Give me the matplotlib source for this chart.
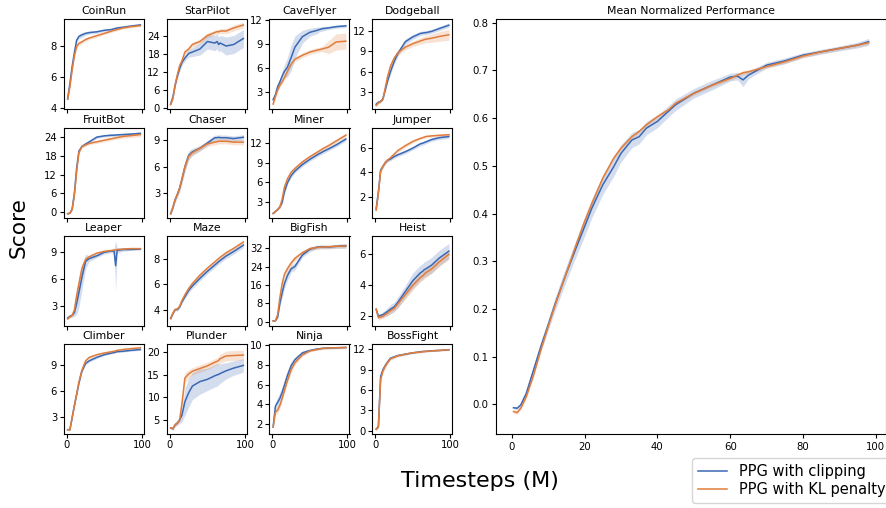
import matplotlib
matplotlib.use("Agg")
import matplotlib.pyplot as plt
import numpy as np

# ---------------- data ----------------
X = [1, 4, 7, 10, 13, 16, 20, 25, 30, 40, 50, 60, 63, 65, 67, 75, 85, 98]

ENVS = ["CoinRun", "StarPilot", "CaveFlyer", "Dodgeball",
        "FruitBot", "Chaser", "Miner", "Jumper",
        "Leaper", "Maze", "BigFish", "Heist",
        "Climber", "Plunder", "Ninja", "BossFight"]

CLIP = {
    "CoinRun":   [4.6, 5.6, 6.7, 7.6, 8.4, 8.65, 8.75, 8.85, 8.9, 8.95, 9.05, 9.1, 9.15, 9.17, 9.2, 9.25, 9.32, 9.4],
    "StarPilot": [1.2, 3.5, 7.5, 10.5, 13, 15, 16.5, 18, 18.5, 19.5, 22, 21.5, 22, 21, 21.5, 20.5, 21, 23],
    "CaveFlyer": [2.1, 2.7, 3.7, 4.3, 5.0, 5.6, 6.1, 7.3, 8.6, 9.9, 10.45, 10.7, 10.8, 10.85, 10.9, 11.0, 11.15, 11.25],
    "Dodgeball": [1.3, 1.6, 1.7, 2.1, 3.3, 4.6, 6.0, 7.5, 8.7, 10.4, 11.1, 11.6, 11.65, 11.7, 11.7, 11.9, 12.3, 12.8],
    "FruitBot":  [-0.5, -0.3, 1.0, 6, 14, 19.5, 21, 21.8, 22.5, 24.0, 24.4, 24.6, 24.6, 24.65, 24.7, 24.8, 24.95, 25.2],
    "Chaser":    [0.7, 1.4, 2.3, 2.9, 3.6, 4.6, 6.0, 7.3, 7.7, 8.1, 8.7, 9.3, 9.3, 9.35, 9.3, 9.3, 9.2, 9.35],
    "Miner":     [1.2, 1.5, 1.8, 2.2, 2.9, 4.5, 5.9, 7.0, 7.7, 8.7, 9.5, 10.2, 10.4, 10.5, 10.65, 11.1, 11.7, 12.6],
    "Jumper":    [1.0, 2.4, 4.2, 4.5, 4.8, 5.0, 5.1, 5.3, 5.45, 5.7, 6.0, 6.35, 6.4, 6.45, 6.5, 6.7, 6.85, 6.95],
    "Leaper":    [1.7, 1.9, 2.0, 2.3, 3.3, 4.5, 6.2, 8.0, 8.3, 8.6, 9.0, 9.15, 9.1, 7.5, 9.2, 9.3, 9.3, 9.35],
    "Maze":      [3.3, 3.7, 4.0, 4.0, 4.2, 4.6, 5.0, 5.5, 5.85, 6.45, 7.0, 7.5, 7.65, 7.75, 7.85, 8.2, 8.55, 9.05],
    "BigFish":   [0.3, 0.4, 2.0, 8.0, 12.5, 16.5, 20.0, 23.0, 24.0, 29.0, 31.5, 32.5, 32.5, 32.6, 32.6, 32.5, 32.8, 33.0],
    "Heist":     [2.45, 2.0, 2.05, 2.1, 2.2, 2.3, 2.45, 2.6, 2.9, 3.6, 4.3, 4.8, 4.9, 5.0, 5.05, 5.3, 5.75, 6.2],
    "Climber":   [1.5, 1.5, 2.9, 4.3, 5.6, 6.9, 8.3, 9.2, 9.5, 9.9, 10.2, 10.4, 10.45, 10.5, 10.55, 10.6, 10.7, 10.8],
    "Plunder":   [3.2, 3.0, 3.9, 4.3, 5.0, 6.0, 9.0, 11.0, 12.5, 13.5, 14.0, 14.8, 15.0, 15.1, 15.3, 15.9, 16.5, 17.1],
    "Ninja":     [1.7, 3.8, 4.2, 4.6, 5.2, 5.9, 6.9, 7.9, 8.5, 9.2, 9.45, 9.6, 9.62, 9.65, 9.67, 9.7, 9.72, 9.75],
    "BossFight": [0.2, 0.6, 8.0, 9.0, 9.6, 10.1, 10.7, 10.9, 11.1, 11.3, 11.5, 11.65, 11.7, 11.7, 11.72, 11.8, 11.85, 11.95],
}

KL = {
    "CoinRun":   [4.6, 5.4, 6.5, 7.4, 8.0, 8.2, 8.3, 8.45, 8.55, 8.7, 8.85, 9.0, 9.05, 9.07, 9.1, 9.2, 9.28, 9.35],
    "StarPilot": [1.0, 3.0, 7.5, 11, 14, 15.5, 18.5, 19.5, 21, 22, 24, 25, 25.3, 25.2, 25.5, 25.5, 26.5, 27.5],
    "CaveFlyer": [1.55, 2.5, 3.3, 3.9, 4.3, 4.8, 5.6, 6.5, 7.1, 7.6, 8.0, 8.25, 8.3, 8.35, 8.4, 8.6, 9.25, 9.35],
    "Dodgeball": [1.1, 1.5, 1.7, 2.0, 3.6, 5.2, 6.8, 8.0, 8.8, 9.6, 10.1, 10.5, 10.6, 10.7, 10.75, 10.9, 11.15, 11.4],
    "FruitBot":  [-0.5, -0.3, 0.8, 5.5, 13, 19, 21, 21.5, 22, 22.5, 23.0, 23.5, 23.65, 23.75, 23.85, 24.2, 24.45, 24.8],
    "Chaser":    [0.7, 1.4, 2.3, 2.9, 3.6, 4.6, 6.0, 7.2, 7.6, 8.1, 8.6, 8.8, 8.85, 8.9, 8.9, 8.9, 8.8, 8.8],
    "Miner":     [1.2, 1.5, 1.8, 2.2, 3.4, 5.2, 6.5, 7.5, 8.1, 9.1, 9.9, 10.6, 10.8, 10.95, 11.1, 11.6, 12.3, 13.2],
    "Jumper":    [0.9, 2.3, 4.1, 4.5, 4.8, 5.0, 5.2, 5.5, 5.8, 6.2, 6.55, 6.8, 6.85, 6.9, 6.95, 7.0, 7.05, 7.1],
    "Leaper":    [1.6, 1.8, 2.0, 2.6, 4.2, 5.5, 7.2, 8.2, 8.5, 8.9, 9.1, 9.2, 9.25, 9.25, 9.3, 9.35, 9.4, 9.4],
    "Maze":      [3.3, 3.7, 4.0, 4.05, 4.25, 4.7, 5.15, 5.65, 6.05, 6.7, 7.25, 7.75, 7.9, 8.0, 8.1, 8.45, 8.8, 9.3],
    "BigFish":   [0.3, 0.4, 3.0, 10.5, 16.5, 20.5, 23.0, 25.5, 27.5, 30.0, 31.8, 32.3, 32.4, 32.5, 32.5, 32.6, 32.8, 33.0],
    "Heist":     [2.45, 1.9, 1.95, 2.0, 2.1, 2.2, 2.35, 2.5, 2.8, 3.4, 4.0, 4.5, 4.6, 4.7, 4.8, 5.05, 5.5, 6.0],
    "Climber":   [1.5, 1.5, 2.9, 4.3, 5.6, 7.0, 8.4, 9.5, 9.9, 10.2, 10.4, 10.55, 10.6, 10.65, 10.7, 10.8, 10.9, 11.0],
    "Plunder":   [3.2, 3.0, 3.9, 4.3, 5.0, 8.5, 14.3, 15.2, 15.8, 16.4, 17.0, 17.8, 18.0, 18.2, 18.6, 19.2, 19.3, 19.4],
    "Ninja":     [1.7, 3.2, 3.4, 3.9, 4.6, 5.4, 6.4, 7.5, 8.2, 9.0, 9.4, 9.55, 9.6, 9.62, 9.65, 9.7, 9.72, 9.75],
    "BossFight": [0.2, 0.5, 7.6, 8.8, 9.5, 10.0, 10.6, 10.85, 11.05, 11.3, 11.5, 11.6, 11.65, 11.68, 11.7, 11.78, 11.85, 11.95],
}

CLIP_SD = {
    "CoinRun":   [0.1, 0.2, 0.2, 0.2, 0.15, 0.15, 0.15, 0.12, 0.1, 0.1, 0.08, 0.08, 0.08, 0.08, 0.08, 0.06, 0.06, 0.06],
    "StarPilot": [0.3, 0.5, 0.8, 1, 1, 1, 1, 1.2, 1.5, 2, 2.5, 2.5, 2.5, 2.5, 2.5, 3, 3, 3],
    "CaveFlyer": [0.2, 0.3, 0.4, 0.5, 0.6, 0.8, 1.2, 1.6, 1.4, 0.8, 0.5, 0.4, 0.3, 0.3, 0.3, 0.2, 0.2, 0.2],
    "Dodgeball": [0.15, 0.2, 0.2, 0.2, 0.3, 0.4, 0.4, 0.4, 0.4, 0.4, 0.35, 0.3, 0.3, 0.3, 0.3, 0.3, 0.3, 0.3],
    "FruitBot":  [0.2, 0.2, 0.3, 0.5, 0.6, 0.5, 0.4, 0.4, 0.4, 0.4, 0.4, 0.4, 0.4, 0.4, 0.4, 0.4, 0.4, 0.4],
    "Chaser":    [0.1, 0.2, 0.3, 0.3, 0.4, 0.5, 0.6, 0.5, 0.4, 0.3, 0.3, 0.3, 0.3, 0.3, 0.3, 0.3, 0.3, 0.3],
    "Miner":     [0.1, 0.1, 0.1, 0.2, 0.3, 0.3, 0.3, 0.3, 0.3, 0.3, 0.3, 0.3, 0.3, 0.3, 0.3, 0.3, 0.3, 0.3],
    "Jumper":    [0.1, 0.15, 0.15, 0.15, 0.15, 0.15, 0.15, 0.15, 0.15, 0.15, 0.15, 0.15, 0.15, 0.15, 0.15, 0.15, 0.15, 0.15],
    "Leaper":    [0.1, 0.1, 0.2, 0.4, 1.2, 1.6, 1.4, 0.8, 0.3, 0.2, 0.2, 0.2, 0.3, 2.8, 0.3, 0.2, 0.1, 0.1],
    "Maze":      [0.1, 0.1, 0.1, 0.1, 0.1, 0.15, 0.15, 0.2, 0.2, 0.2, 0.2, 0.2, 0.2, 0.2, 0.2, 0.2, 0.2, 0.2],
    "BigFish":   [0.3, 0.3, 0.8, 1.5, 2.0, 2.0, 2.0, 1.5, 1.5, 1.0, 1.0, 0.8, 0.8, 0.8, 0.8, 0.8, 0.8, 1.0],
    "Heist":     [0.15, 0.15, 0.15, 0.2, 0.2, 0.25, 0.3, 0.3, 0.35, 0.4, 0.5, 0.5, 0.5, 0.5, 0.5, 0.5, 0.5, 0.5],
    "Climber":   [0.1, 0.1, 0.15, 0.2, 0.2, 0.2, 0.2, 0.2, 0.15, 0.15, 0.1, 0.1, 0.1, 0.1, 0.1, 0.1, 0.1, 0.1],
    "Plunder":   [0.2, 0.3, 0.4, 0.5, 0.8, 1.5, 3.0, 3.2, 3.0, 2.8, 2.5, 2.5, 2.5, 2.3, 2.2, 1.8, 1.6, 1.5],
    "Ninja":     [0.1, 0.4, 0.5, 0.6, 0.6, 0.6, 0.5, 0.4, 0.3, 0.2, 0.1, 0.1, 0.1, 0.1, 0.1, 0.1, 0.1, 0.1],
    "BossFight": [0.1, 0.2, 0.4, 0.3, 0.3, 0.2, 0.2, 0.2, 0.15, 0.15, 0.1, 0.1, 0.1, 0.1, 0.1, 0.1, 0.1, 0.1],
}

KL_SD = {
    "CoinRun":   [0.1, 0.2, 0.2, 0.2, 0.15, 0.15, 0.12, 0.1, 0.1, 0.1, 0.08, 0.08, 0.08, 0.08, 0.08, 0.06, 0.06, 0.06],
    "StarPilot": [0.3, 0.4, 0.6, 0.7, 0.7, 0.7, 0.7, 0.8, 0.8, 0.8, 0.8, 0.8, 0.8, 0.8, 0.8, 0.9, 1.0, 1.0],
    "CaveFlyer": [0.2, 0.3, 0.3, 0.3, 0.3, 0.3, 0.3, 0.3, 0.3, 0.3, 0.3, 0.3, 0.3, 0.3, 0.35, 0.8, 1.0, 1.0],
    "Dodgeball": [0.15, 0.2, 0.2, 0.2, 0.3, 0.4, 0.4, 0.4, 0.4, 0.4, 0.4, 0.45, 0.5, 0.5, 0.5, 0.6, 0.7, 0.8],
    "FruitBot":  [0.2, 0.2, 0.3, 0.5, 0.6, 0.5, 0.4, 0.4, 0.4, 0.5, 0.5, 0.5, 0.5, 0.5, 0.5, 0.6, 0.6, 0.7],
    "Chaser":    [0.1, 0.2, 0.3, 0.3, 0.4, 0.4, 0.4, 0.4, 0.3, 0.3, 0.3, 0.3, 0.3, 0.3, 0.3, 0.3, 0.3, 0.3],
    "Miner":     [0.1, 0.1, 0.1, 0.2, 0.3, 0.3, 0.3, 0.3, 0.3, 0.3, 0.3, 0.3, 0.3, 0.3, 0.3, 0.3, 0.3, 0.3],
    "Jumper":    [0.1, 0.15, 0.15, 0.15, 0.15, 0.15, 0.15, 0.15, 0.15, 0.15, 0.12, 0.1, 0.1, 0.1, 0.1, 0.1, 0.1, 0.1],
    "Leaper":    [0.1, 0.1, 0.2, 0.3, 0.6, 0.6, 0.5, 0.3, 0.2, 0.15, 0.15, 0.1, 0.1, 0.1, 0.1, 0.1, 0.1, 0.1],
    "Maze":      [0.1, 0.1, 0.1, 0.1, 0.1, 0.1, 0.1, 0.1, 0.1, 0.1, 0.1, 0.1, 0.1, 0.1, 0.1, 0.1, 0.1, 0.1],
    "BigFish":   [0.3, 0.3, 0.8, 1.5, 1.5, 1.5, 1.5, 1.5, 1.2, 1.0, 0.8, 0.8, 0.8, 0.8, 0.8, 0.8, 0.8, 1.0],
    "Heist":     [0.15, 0.15, 0.15, 0.15, 0.15, 0.2, 0.2, 0.2, 0.25, 0.3, 0.3, 0.3, 0.3, 0.3, 0.3, 0.3, 0.3, 0.3],
    "Climber":   [0.1, 0.1, 0.15, 0.2, 0.2, 0.2, 0.2, 0.2, 0.15, 0.15, 0.1, 0.1, 0.1, 0.1, 0.1, 0.1, 0.1, 0.1],
    "Plunder":   [0.2, 0.2, 0.3, 0.4, 0.5, 1.2, 1.2, 0.9, 0.8, 0.8, 0.8, 0.8, 0.8, 0.9, 1.0, 1.1, 1.1, 1.1],
    "Ninja":     [0.1, 0.3, 0.3, 0.3, 0.3, 0.3, 0.3, 0.3, 0.2, 0.15, 0.1, 0.1, 0.1, 0.1, 0.1, 0.1, 0.1, 0.1],
    "BossFight": [0.1, 0.2, 0.4, 0.3, 0.3, 0.2, 0.2, 0.2, 0.15, 0.15, 0.1, 0.1, 0.1, 0.1, 0.1, 0.1, 0.1, 0.1],
}

YTICKS = {
    "CoinRun": [4, 6, 8], "StarPilot": [0, 6, 12, 18, 24], "CaveFlyer": [3, 6, 9, 12],
    "Dodgeball": [3, 6, 9, 12], "FruitBot": [0, 6, 12, 18, 24], "Chaser": [3, 6, 9],
    "Miner": [3, 6, 9, 12], "Jumper": [2, 4, 6], "Leaper": [3, 6, 9], "Maze": [4, 6, 8],
    "BigFish": [0, 8, 16, 24, 32], "Heist": [2, 4, 6], "Climber": [3, 6, 9],
    "Plunder": [5, 10, 15, 20], "Ninja": [2, 4, 6, 8, 10], "BossFight": [0, 3, 6, 9, 12],
}

YLIMS = {
    "CoinRun": (3.98, 9.78), "StarPilot": (-0.3, 29.5), "CaveFlyer": (1.0, 12.1),
    "Dodgeball": (0.67, 13.7), "FruitBot": (-1.7, 26.9), "Chaser": (0.27, 10.4),
    "Miner": (0.58, 14.3), "Jumper": (0.3, 7.65), "Leaper": (0.87, 10.8),
    "Maze": (2.75, 9.77), "BigFish": (-1.7, 37.3), "Heist": (1.4, 7.18),
    "Climber": (1.06, 11.44), "Plunder": (1.96, 21.86), "Ninja": (1.05, 10.1),
    "BossFight": (-0.44, 12.8),
}

# Mean normalized performance
MX = [0.5, 1.5, 2.5, 4, 6, 8, 10, 12, 15, 18, 20, 22, 25, 28, 30, 33, 35, 37, 40,
      43, 45, 50, 55, 60, 62, 63.5, 65, 70, 75, 80, 85, 90, 95, 98]
MEAN_CLIP = [-0.007, -0.008, -0.001, 0.023, 0.072, 0.121, 0.166, 0.212, 0.275, 0.334,
             0.372, 0.411, 0.460, 0.498, 0.526, 0.554, 0.561, 0.579, 0.593, 0.614,
             0.628, 0.652, 0.669, 0.686, 0.688, 0.680, 0.690, 0.711, 0.720, 0.732,
             0.739, 0.746, 0.753, 0.760]
MEAN_KL = [-0.015, -0.017, -0.008, 0.016, 0.061, 0.114, 0.163, 0.210, 0.275, 0.341,
           0.383, 0.421, 0.474, 0.516, 0.537, 0.561, 0.572, 0.586, 0.603, 0.617,
           0.631, 0.652, 0.669, 0.683, 0.690, 0.695, 0.697, 0.708, 0.718, 0.730,
           0.739, 0.746, 0.753, 0.758]
MEAN_CLIP_SD = [0.003, 0.003, 0.004, 0.006, 0.008, 0.01, 0.012, 0.014, 0.016, 0.018,
                0.02, 0.02, 0.02, 0.02, 0.018, 0.016, 0.015, 0.014, 0.013, 0.012,
                0.012, 0.01, 0.01, 0.008, 0.008, 0.014, 0.008, 0.006, 0.006, 0.005,
                0.005, 0.005, 0.006, 0.007]
MEAN_KL_SD = [0.004] * len(MX)

LABELS = ["PPG with clipping", "PPG with KL penalty"]
BLUE = "#3a68b4"
ORANGE = "#e07d3c"

# ---------------- layout ----------------
W, H = 887, 508
fig = plt.figure(figsize=(W / 100, H / 100), dpi=100)

col_left = [64, 167, 269.5, 372.5]
col_w = 80
row_top = [19, 128, 236, 344]
row_h = 89.5

def rect(l, t, w, h):
    return [l / W, 1 - (t + h) / H, w / W, h / H]

for i, env in enumerate(ENVS):
    r, c = divmod(i, 4)
    ax = fig.add_axes(rect(col_left[c], row_top[r], col_w, row_h))
    for vals, sd, col in ((CLIP[env], CLIP_SD[env], BLUE), (KL[env], KL_SD[env], ORANGE)):
        v = np.array(vals)
        s = np.array(sd)
        ax.fill_between(X, v - s, v + s, color=col, alpha=0.22, lw=0)
        ax.plot(X, v, color=col, lw=1.1)
    ax.set_xlim(-3.85, 102.85)
    ax.set_ylim(*YLIMS[env])
    ax.set_yticks(YTICKS[env])
    ax.set_xticks([0, 100])
    ax.tick_params(labelsize=7.2, length=3, pad=2)
    if r < 3:
        ax.set_xticklabels([])
    ax.set_title(env, fontsize=7.8, pad=3.5)

# main axes
axm = fig.add_axes(rect(496, 19.3, 390.5, 414.7))
for vals, sd, col, lab in ((MEAN_CLIP, MEAN_CLIP_SD, BLUE, LABELS[0]),
                           (MEAN_KL, MEAN_KL_SD, ORANGE, LABELS[1])):
    v = np.array(vals)
    s = np.array(sd)
    axm.fill_between(MX, v - s, v + s, color=col, alpha=0.22, lw=0)
    axm.plot(MX, v, color=col, lw=1.1, label=lab)
axm.set_xlim(-4.3, 102.9)
axm.set_ylim(-0.062, 0.807)
axm.set_xticks([0, 20, 40, 60, 80, 100])
axm.set_yticks([0.0, 0.1, 0.2, 0.3, 0.4, 0.5, 0.6, 0.7, 0.8])
axm.tick_params(labelsize=7.3, length=3, pad=2.5)
axm.set_title("Mean Normalized Performance", fontsize=7.8, pad=4)

fig.text(19 / W, 1 - 228 / H, "Score", rotation=90, fontsize=15.6,
         ha="center", va="center")
fig.text(480 / W, 1 - 486.7 / H, "Timesteps (M)", fontsize=16,
         ha="center", va="baseline")

handles, labels = axm.get_legend_handles_labels()
fig.legend(handles, labels, loc="upper left", bbox_to_anchor=(692 / W, 1 - 458 / H),
           fontsize=10.5, labelspacing=0.2, borderaxespad=0, frameon=True)

fig.savefig("out.png", dpi=100)
